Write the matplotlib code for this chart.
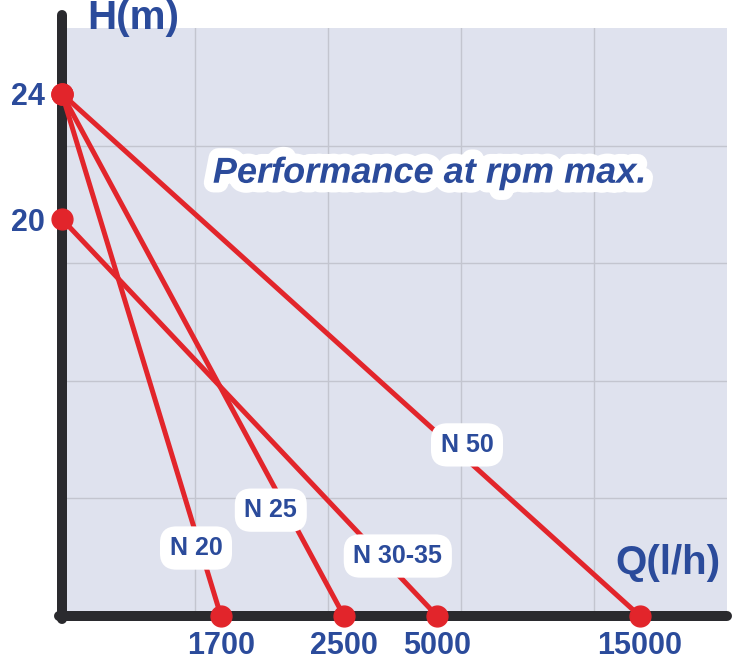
import numpy as np
import matplotlib
matplotlib.use("Agg")
import matplotlib.pyplot as plt
import matplotlib.patheffects as pe

plt.rcParams['font.family'] = ['Liberation Sans', 'DejaVu Sans']

# data: pump curves, head at zero flow -> max flow at zero head
models = ['N 20', 'N 25', 'N 30-35', 'N 50']
h_max = [24, 24, 20, 24]        # H (m)
q_max = [1700, 2500, 5000, 15000]  # Q (l/h)
x_ticks = [1700, 2500, 5000, 15000]
y_ticks = [20, 24]

BLUE = '#2b4b9b'
RED = '#e2252b'
BG = '#dfe2ee'
DARK = '#2a2a2e'

# the chart uses a stretched, non linear axis -> piecewise scale
Q_ANCH = [0, 1700, 2500, 5000, 15000, 19300]
Q_POS = [0, 0.239, 0.424, 0.564, 0.869, 1.0]
H_ANCH = [0, 20, 24, 26.1]
H_POS = [0, 0.675, 0.888, 1.0]

def qf(v): return np.interp(v, Q_ANCH, Q_POS)
def qi(v): return np.interp(v, Q_POS, Q_ANCH)
def hf(v): return np.interp(v, H_ANCH, H_POS)
def hi(v): return np.interp(v, H_POS, H_ANCH)

fig = plt.figure(figsize=(7.43, 6.64), dpi=100)
ax = fig.add_axes([62/743, 1 - 616/664, 665/743, 588/664])
ax.set_facecolor(BG)
ax.set_xscale('function', functions=(qf, qi))
ax.set_yscale('function', functions=(hf, hi))
ax.set_xlim(0, Q_ANCH[-1])
ax.set_ylim(0, H_ANCH[-1])

# decorative 5x5 grid
for f in [0.2, 0.4, 0.6, 0.8]:
    ax.plot([f, f], [0, 1], color='#c3c5cf', lw=1, transform=ax.transAxes, zorder=0.5)
    ax.plot([0, 1], [f, f], color='#c3c5cf', lw=1, transform=ax.transAxes, zorder=0.5)

for s in ax.spines.values():
    s.set_visible(False)
# thick axes with rounded ends
ax.plot([0, 0], [-0.005, 1.022], color=DARK, lw=7.2, solid_capstyle='round',
        transform=ax.transAxes, clip_on=False, zorder=3)
ax.plot([-0.005, 1.0], [0, 0], color=DARK, lw=7.2, solid_capstyle='round',
        transform=ax.transAxes, clip_on=False, zorder=3)

for h, q in zip(h_max, q_max):
    ax.plot([0, q], [h, 0], color=RED, lw=3.6, zorder=4, clip_on=False)
    ax.plot([0, q], [h, 0], 'o', color=RED, ms=15, zorder=5, clip_on=False)

ax.set_xticks(x_ticks)
ax.set_xticklabels([str(v) for v in x_ticks])
ax.set_yticks(y_ticks)
ax.set_yticklabels([str(v) for v in y_ticks])
ax.minorticks_off()
ax.tick_params(length=0, labelsize=22, labelcolor=BLUE)
ax.tick_params(axis='x', pad=11)
ax.tick_params(axis='y', pad=12)
for lab in ax.get_xticklabels() + ax.get_yticklabels():
    lab.set_fontweight('bold')

# curve labels
lab_pos = [(0.2015, 0.1156), (0.314, 0.180), (0.505, 0.102), (0.609, 0.291)]
for name, (lx, ly) in zip(models, lab_pos):
    ax.text(lx, ly, name, transform=ax.transAxes, ha='center', va='center',
            fontsize=18, fontweight='bold', color=BLUE, zorder=6,
            bbox=dict(boxstyle='round,pad=0.33,rounding_size=0.6', fc='white', ec='white', lw=2))

ax.text(0.553, 0.753, 'Performance at rpm max.', transform=ax.transAxes,
        ha='center', va='center', fontsize=26, fontweight='bold', style='italic',
        color=BLUE, zorder=6,
        path_effects=[pe.withStroke(linewidth=14, foreground='white')])

fig.text(87/743, 1 - 29/664, 'H(m)', fontsize=29, fontweight='bold', color=BLUE,
         ha='left', va='baseline')
fig.text(615/743, 1 - 574/664, 'Q(l/h)', fontsize=29, fontweight='bold', color=BLUE,
         ha='left', va='baseline')

fig.savefig('out.png', dpi=100)
